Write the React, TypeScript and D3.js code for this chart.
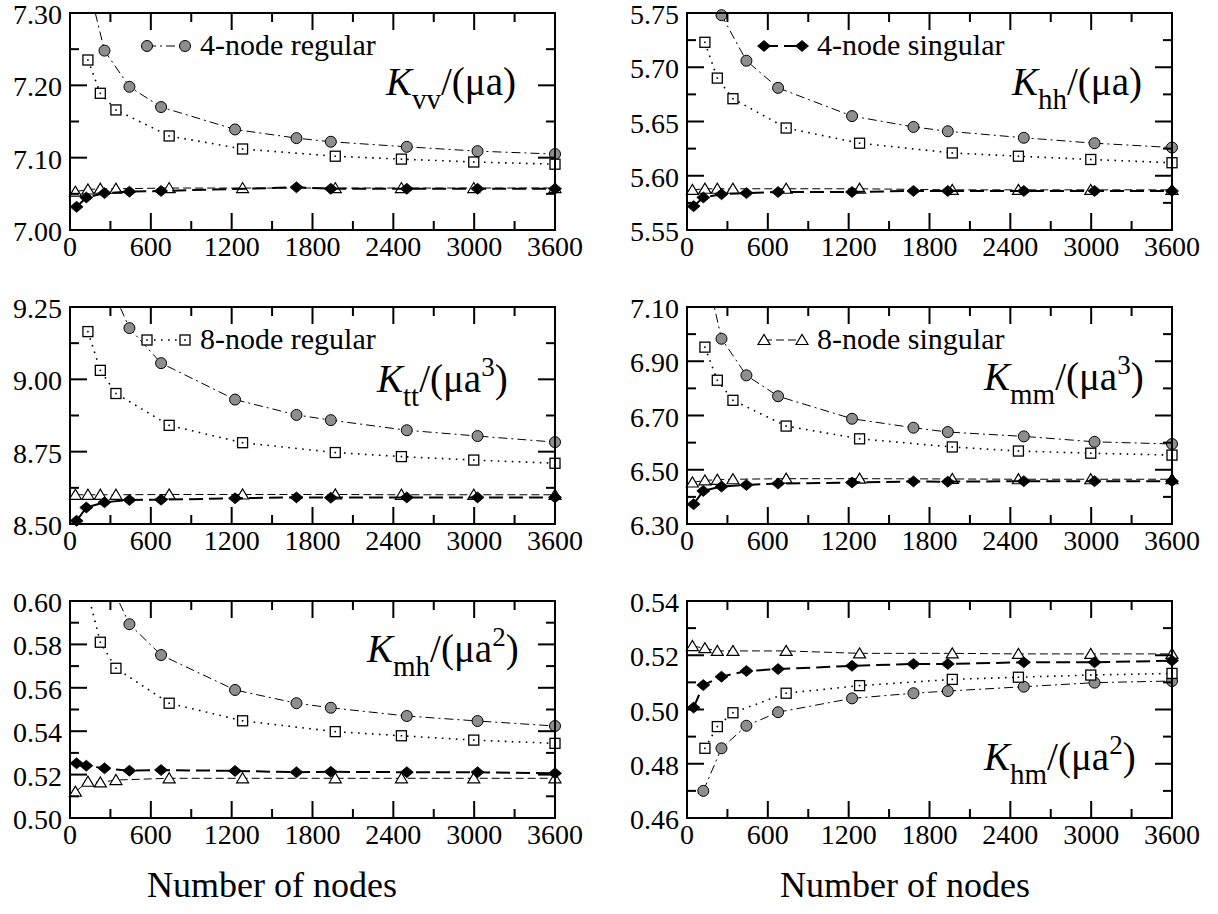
import React from 'react';
import * as d3 from 'd3';

// ---------- data ----------
const nodes4 = [49, 121, 256, 441, 676, 1225, 1681, 1936, 2500, 3025, 3600];
const nodes8 = [40, 133, 225, 341, 736, 1281, 1969, 2460, 2997, 3600];
const xTicks = [0, 600, 1200, 1800, 2400, 3000, 3600];

// K_vv
const kvvReg4 = [null, 7.351, 7.248, 7.198, 7.170, 7.139, 7.127, 7.122, 7.115, 7.109, 7.105];
const kvvReg8 = [null, 7.235, 7.189, 7.166, 7.130, 7.112, 7.102, 7.098, 7.094, 7.091];
const kvvSing4 = [7.032, 7.045, 7.051, 7.053, 7.054, null, 7.059, 7.057, 7.057, 7.057, 7.057];
const kvvSing8 = [7.053, 7.056, 7.057, 7.057, 7.058, 7.058, 7.058, 7.058, 7.058, 7.058];
// K_hh
const khhReg4 = [null, 5.835, 5.748, 5.706, 5.681, 5.655, 5.645, 5.641, 5.635, 5.630, 5.626];
const khhReg8 = [null, 5.723, 5.690, 5.671, 5.644, 5.630, 5.621, 5.618, 5.615, 5.612];
const khhSing4 = [5.572, 5.580, 5.583, 5.584, 5.585, 5.585, 5.586, 5.586, 5.586, 5.586, 5.586];
const khhSing8 = [5.587, 5.588, 5.588, 5.588, 5.588, 5.588, 5.587, 5.587, 5.587, 5.587];
// K_tt
const kttReg4 = [null, 9.62, 9.37, 9.177, 9.056, 8.930, 8.877, 8.859, 8.824, 8.804, 8.783];
const kttReg8 = [null, 9.165, 9.031, 8.951, 8.841, 8.781, 8.747, 8.733, 8.721, 8.710];
const kttSing4 = [8.511, 8.557, 8.575, 8.583, 8.584, 8.589, 8.592, 8.591, 8.592, 8.592, 8.592];
const kttSing8 = [8.601, 8.601, 8.601, 8.601, 8.602, 8.602, 8.602, 8.601, 8.601, 8.601];
// K_mm
const kmmReg4 = [null, 7.28, 6.983, 6.848, 6.771, 6.688, 6.655, 6.639, 6.623, 6.603, 6.595];
const kmmReg8 = [null, 6.952, 6.830, 6.756, 6.661, 6.614, 6.584, 6.569, 6.561, 6.554];
const kmmSing4 = [6.373, 6.422, 6.438, 6.444, 6.449, 6.453, 6.457, 6.456, 6.458, 6.458, 6.458];
const kmmSing8 = [6.453, 6.461, 6.463, 6.465, 6.467, 6.467, 6.466, 6.465, 6.465, 6.465];
// K_mh
const kmhReg4 = [null, 0.64, 0.614, 0.5893, 0.5751, 0.5590, 0.5529, 0.5508, 0.5470, 0.5447, 0.5424];
const kmhReg8 = [null, 0.6035, 0.581, 0.569, 0.5529, 0.5448, 0.5398, 0.5379, 0.5359, 0.5344];
const kmhSing4 = [0.5252, 0.5241, 0.5229, 0.5218, 0.5221, 0.5217, 0.5211, 0.5213, 0.5211, 0.5211, 0.5206];
const kmhSing8 = [0.5121, 0.5167, 0.5164, 0.5175, 0.5183, 0.5183, 0.5183, 0.5183, 0.5183, 0.5183];
// K_hm
const khmReg4 = [null, 0.4700, 0.4857, 0.4940, 0.4990, 0.5041, 0.5060, 0.5068, 0.5084, 0.5099, 0.5105];
const khmReg8 = [null, 0.4857, 0.4937, 0.4988, 0.5060, 0.5088, 0.5111, 0.5119, 0.5127, 0.5133];
const khmSing4 = [0.5007, 0.5090, 0.5121, 0.5142, 0.5149, 0.5161, 0.5168, 0.5168, 0.5174, 0.5174, 0.5180];
const khmSing8 = [0.5234, 0.5226, 0.5216, 0.5216, 0.5216, 0.5207, 0.5207, 0.5205, 0.5205, 0.5205];

const legendNames = ['4-node regular', '4-node singular', '8-node regular', '8-node singular'];
const xTitle = 'Number of nodes';

// ---------- layout ----------
const W = 1218, H = 914;
const colX = [70, 687];
const rowY = [13, 307, 601];
const PW = 485, PH = 217;
const FONT = 'Liberation Serif';
const fs = (size: number): React.CSSProperties => ({ fontFamily: FONT, fontSize: size });

type Panel = {
  reg4: (number | null)[]; reg8: (number | null)[]; sing4: (number | null)[]; sing8: (number | null)[];
  lo: number; hi: number; major: number; minor: number;
  sub: string; sup: string | null; lx: number; ly: number; legend: number | null;
};

const panels: Panel[] = [
  { reg4: kvvReg4, reg8: kvvReg8, sing4: kvvSing4, sing8: kvvSing8, lo: 7.0, hi: 7.3, major: 0.1, minor: 0.05, sub: 'vv', sup: null, lx: 386, ly: 95, legend: 0 },
  { reg4: khhReg4, reg8: khhReg8, sing4: khhSing4, sing8: khhSing8, lo: 5.55, hi: 5.75, major: 0.05, minor: 0.025, sub: 'hh', sup: null, lx: 1012, ly: 95, legend: 1 },
  { reg4: kttReg4, reg8: kttReg8, sing4: kttSing4, sing8: kttSing8, lo: 8.5, hi: 9.25, major: 0.25, minor: 0.125, sub: 'tt', sup: '3', lx: 377, ly: 392, legend: 2 },
  { reg4: kmmReg4, reg8: kmmReg8, sing4: kmmSing4, sing8: kmmSing8, lo: 6.3, hi: 7.1, major: 0.2, minor: 0.1, sub: 'mm', sup: '3', lx: 984, ly: 390, legend: 3 },
  { reg4: kmhReg4, reg8: kmhReg8, sing4: kmhSing4, sing8: kmhSing8, lo: 0.5, hi: 0.6, major: 0.02, minor: 0.01, sub: 'mh', sup: '2', lx: 367, ly: 662, legend: null },
  { reg4: khmReg4, reg8: khmReg8, sing4: khmSing4, sing8: khmSing8, lo: 0.46, hi: 0.54, major: 0.02, minor: 0.01, sub: 'hm', sup: '2', lx: 984, ly: 770, legend: null },
];

const steps = (lo: number, hi: number, st: number) => {
  const n = Math.round((hi - lo) / st);
  return d3.range(n + 1).map(i => +(lo + i * st).toFixed(6));
};

// ---------- markers ----------
const Circle = ({ x, y }: { x: number; y: number }) => (
  <circle cx={x} cy={y} r={5.5} fill="#8e8e8e" stroke="#000" strokeWidth={1} />
);
const Square = ({ x, y }: { x: number; y: number }) => (
  <g>
    <rect x={x - 5} y={y - 5} width={10} height={10} fill="#fff" stroke="#000" strokeWidth={1.3} />
    <rect x={x - 0.8} y={y - 0.8} width={1.6} height={1.6} fill="#000" />
  </g>
);
const Diamond = ({ x, y }: { x: number; y: number }) => (
  <path d={`M${x - 6.5},${y} L${x},${y - 5.5} L${x + 6.5},${y} L${x},${y + 5.5} Z`} fill="#000" stroke="#000" strokeWidth={0.8} />
);
const Triangle = ({ x, y }: { x: number; y: number }) => (
  <path d={`M${x - 6},${y + 4.5} L${x + 6},${y + 4.5} L${x},${y - 5.5} Z`} fill="#fff" stroke="#000" strokeWidth={1.2} />
);

const seriesStyle = [
  { M: Circle, dash: '9,4,2,4', width: 1 },     // 4-node regular
  { M: Diamond, dash: '14,6', width: 2 },      // 4-node singular
  { M: Square, dash: '1.6,5.4', width: 1.6 },   // 8-node regular
  { M: Triangle, dash: '8,4', width: 1 },      // 8-node singular
];

function PanelView({ p, idx }: { p: Panel; idx: number }) {
  const x0 = colX[idx % 2];
  const y0 = rowY[Math.floor(idx / 2)];
  const x = d3.scaleLinear().domain([0, 3600]).range([x0, x0 + PW]);
  const y = d3.scaleLinear().domain([p.lo, p.hi]).range([y0 + PH, y0]);
  const clipId = `clip${idx}`;

  const series = [
    { s: 0, xs: nodes4, ys: p.reg4 },
    { s: 2, xs: nodes8, ys: p.reg8 },
    { s: 3, xs: nodes8, ys: p.sing8 },
    { s: 1, xs: nodes4, ys: p.sing4 },
  ];

  const majorY = steps(p.lo, p.hi, p.major);
  const minorY = steps(p.lo, p.hi, p.minor).filter(v => !majorY.some(m => Math.abs(m - v) < 1e-9));
  const minorX = steps(0, 3600, 300).filter(v => v % 600 !== 0);
  const TM = 17, Tm = 9;
  const line = d3.line<[number, number]>().x(d => x(d[0])).y(d => y(d[1]));

  return (
    <g>
      <defs>
        <clipPath id={clipId}>
          <rect x={x0} y={y0} width={PW} height={PH} />
        </clipPath>
      </defs>
      {series.map(({ s, xs, ys }) => {
        const pts = xs.map((n, i) => [n, ys[i]] as [number, number | null]).filter(d => d[1] != null) as [number, number][];
        const st = seriesStyle[s];
        const M = st.M;
        return (
          <g key={s}>
            <path d={line(pts) || ''} fill="none" stroke="#000" strokeWidth={st.width} strokeDasharray={st.dash} clipPath={`url(#${clipId})`} />
            {pts.filter(d => d[1] >= p.lo - 1e-9 && d[1] <= p.hi + 1e-9).map((d, i) => (
              <M key={i} x={x(d[0])} y={y(d[1])} />
            ))}
          </g>
        );
      })}
      {/* frame */}
      <rect x={x0} y={y0} width={PW} height={PH} fill="none" stroke="#000" strokeWidth={2} />
      {/* x ticks */}
      {xTicks.map(v => (
        <g key={'xt' + v}>
          <line x1={x(v)} x2={x(v)} y1={y0 + PH} y2={y0 + PH - TM} stroke="#000" strokeWidth={2} />
          <line x1={x(v)} x2={x(v)} y1={y0} y2={y0 + TM} stroke="#000" strokeWidth={2} />
          <text x={x(v)} y={y0 + PH + 26} textAnchor="middle" style={fs(28)}>{v}</text>
        </g>
      ))}
      {minorX.map(v => (
        <g key={'xm' + v}>
          <line x1={x(v)} x2={x(v)} y1={y0 + PH} y2={y0 + PH - Tm} stroke="#000" strokeWidth={2} />
          <line x1={x(v)} x2={x(v)} y1={y0} y2={y0 + Tm} stroke="#000" strokeWidth={2} />
        </g>
      ))}
      {/* y ticks */}
      {majorY.map(v => (
        <g key={'yt' + v}>
          <line x1={x0} x2={x0 + TM} y1={y(v)} y2={y(v)} stroke="#000" strokeWidth={2} />
          <line x1={x0 + PW} x2={x0 + PW - TM} y1={y(v)} y2={y(v)} stroke="#000" strokeWidth={2} />
          <text x={x0 - 8} y={y(v) + 11} textAnchor="end" style={fs(28)}>{v.toFixed(2)}</text>
        </g>
      ))}
      {minorY.map(v => (
        <g key={'ym' + v}>
          <line x1={x0} x2={x0 + Tm} y1={y(v)} y2={y(v)} stroke="#000" strokeWidth={2} />
          <line x1={x0 + PW} x2={x0 + PW - Tm} y1={y(v)} y2={y(v)} stroke="#000" strokeWidth={2} />
        </g>
      ))}
      {/* quantity label */}
      <text x={p.lx} y={p.ly} style={fs(39)}>
        <tspan fontStyle="italic">K</tspan>
        <tspan style={fs(29)} dy={14}>{p.sub}</tspan>
        <tspan dy={-14}>/(μa</tspan>
        {p.sup ? <tspan style={fs(27)} dy={-16}>{p.sup}</tspan> : null}
        <tspan dy={p.sup ? 16 : 0}>)</tspan>
      </text>
      {/* legend */}
      {p.legend != null ? (() => {
        const st = seriesStyle[p.legend];
        const M = st.M;
        const lyy = y0 + 33;
        const a = x0 + 77, b = x0 + 115;
        return (
          <g>
            <line x1={a} x2={b} y1={lyy} y2={lyy} stroke="#000" strokeWidth={st.width} strokeDasharray={st.dash} />
            <M x={a} y={lyy} />
            <M x={b} y={lyy} />
            <text x={x0 + 130} y={lyy + 9} style={fs(30)}>{legendNames[p.legend]}</text>
          </g>
        );
      })() : null}
    </g>
  );
}

export default function App() {
  return (
    <svg width={W} height={H} style={{ position: 'absolute', left: 0, top: 0, background: '#fff' }}>
      <rect x={0} y={0} width={W} height={H} fill="#fff" />
      {panels.map((p, i) => <PanelView key={i} p={p} idx={i} />)}
      <text x={272} y={897} textAnchor="middle" style={fs(36)}>{xTitle}</text>
      <text x={905} y={897} textAnchor="middle" style={fs(36)}>{xTitle}</text>
    </svg>
  );
}
